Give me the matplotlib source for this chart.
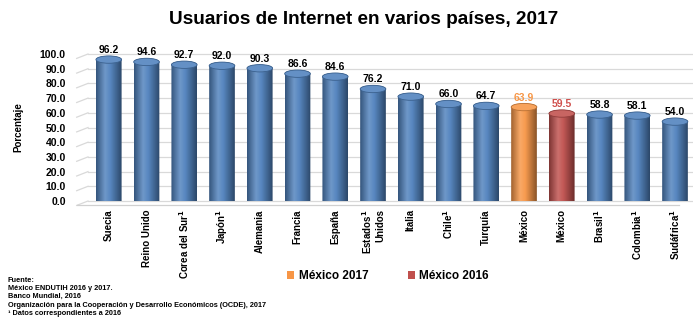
import numpy as np
import matplotlib
matplotlib.use("Agg")
import matplotlib.pyplot as plt
from matplotlib.path import Path
from matplotlib.patches import PathPatch, Ellipse, Patch
from matplotlib.colors import LinearSegmentedColormap, to_rgb

plt.rcParams['font.family'] = ['Liberation Sans', 'DejaVu Sans']
plt.rcParams['font.weight'] = 'bold'

paises = ["Suecia", "Reino Unido", "Corea del Sur$^1$", "Japón$^1$", "Alemania",
          "Francia", "España", "Estados$^1$\nUnidos", "Italia", "Chile$^1$",
          "Turquía", "México", "México", "Brasil$^1$", "Colombia$^1$", "Sudáfrica$^1$"]
usuarios = [96.2, 94.6, 92.7, 92.0, 90.3, 86.6, 84.6, 76.2, 71.0, 66.0,
            64.7, 63.9, 59.5, 58.8, 58.1, 54.0]
grupo = ["otros"] * 11 + ["mx2017", "mx2016"] + ["otros"] * 3
yticks = np.arange(0, 101, 10)

colores = {"otros": "#4F81BD", "mx2017": "#F79646", "mx2016": "#C0504D"}
color_etiqueta = {"otros": "black", "mx2017": "#F79646", "mx2016": "#D0504D"}


def shade(c, f):
    r = np.array(to_rgb(c))
    if f < 0:
        return tuple(r * (1 + f))
    return tuple(r + (1 - r) * f)


fig = plt.figure(figsize=(6.93, 3.2), dpi=100)
y_top, y_base = 54, 201
ax = fig.add_axes([88 / 693, 1 - y_base / 320, (692 - 88) / 693, (y_base - y_top) / 320])

x = np.arange(len(usuarios))
w = 0.68
eh = 5.0  # ellipse height of the cylinder caps, in data units

ax.set_xlim(-0.55, 15.45)
ax.set_ylim(0, 100)

# grid lines with a small perspective stub on the left
for t in yticks:
    ax.plot([-0.55, 15.45], [t, t], color="#D9D9D9", lw=0.9, zorder=0, clip_on=False)
    ax.plot([-0.85, -0.55], [t - 3.0, t], color="#D9D9D9", lw=0.9, zorder=0, clip_on=False)
ax.plot([-0.85, 15.1], [-3.0, -3.0], color="#D0D0D0", lw=0.9, zorder=0, clip_on=False)

grad = np.linspace(0, 1, 256).reshape(1, -1)
for xi, v, g in zip(x, usuarios, grupo):
    base = colores[g]
    cmap = LinearSegmentedColormap.from_list(
        "cyl", [(0, shade(base, -0.35)), (0.35, shade(base, 0.18)),
                (0.55, shade(base, 0.05)), (1, shade(base, -0.45))])
    l, r = xi - w / 2, xi + w / 2
    t = np.linspace(np.pi, 2 * np.pi, 40)
    bottom = [(xi + w / 2 * np.cos(a), eh / 2 * np.sin(a)) for a in t]
    t2 = np.linspace(0, np.pi, 40)
    top = [(xi + w / 2 * np.cos(a), v + eh / 2 * np.sin(a)) for a in t2]
    verts = [(l, v)] + bottom + [(r, v)] + top + [(l, v)]
    codes = [Path.MOVETO] + [Path.LINETO] * (len(verts) - 2) + [Path.CLOSEPOLY]
    body = PathPatch(Path(verts, codes), transform=ax.transData, facecolor="none",
                     edgecolor="none")
    ax.add_patch(body)
    im = ax.imshow(grad, cmap=cmap, extent=[l, r, -eh / 2, v + eh / 2],
                   aspect="auto", zorder=2, interpolation="bilinear")
    im.set_clip_path(body)
    cap = Ellipse((xi, v), w, eh, facecolor=shade(base, 0.12),
                  edgecolor=shade(base, -0.25), lw=0.6, zorder=3)
    ax.add_patch(cap)
    ax.text(xi, v + eh / 2 + 0.6, f"{v:.1f}", ha="center", va="bottom",
            fontsize=7.5, fontweight="bold", color=color_etiqueta[g], zorder=4)

ax.set_xlim(-0.55, 15.45)
ax.set_ylim(0, 100)
ax.set_xticks(x)
ax.set_xticklabels(paises, rotation=90, fontsize=7, fontweight="bold",
                   multialignment="right")
ax.set_yticks(yticks)
ax.set_yticklabels([f"{t:.1f}" for t in yticks], fontsize=7.5, fontweight="bold")
ax.tick_params(axis="both", length=0)
ax.tick_params(axis="y", pad=16)
ax.tick_params(axis="x", pad=6)
for s in ax.spines.values():
    s.set_visible(False)
ax.set_ylabel("Porcentaje", fontsize=7, fontweight="bold", labelpad=12)

fig.text(364 / 693, 1 - 19 / 320, "Usuarios de Internet en varios países, 2017",
         ha="center", va="center", fontsize=13.7, fontweight="bold")

handles = [Patch(facecolor=colores["mx2017"]), Patch(facecolor=colores["mx2016"])]
fig.legend(handles, ["México 2017", "México 2016"], loc="center",
           bbox_to_anchor=(388 / 693, 1 - 276 / 320), ncol=2, frameon=False,
           prop={"size": 8.5, "weight": "bold"}, handlelength=0.6, handleheight=0.6,
           handletextpad=0.4, columnspacing=3.3)

notas = ["Fuente:", "México ENDUTIH 2016 y 2017.", "Banco Mundial, 2016",
         "Organización para la Cooperación y Desarrollo Económicos (OCDE), 2017",
         "¹ Datos correspondientes a 2016"]
for i, n in enumerate(notas):
    fig.text(8 / 693, 1 - (280 + 8.4 * i) / 320, n, ha="left", va="center",
             fontsize=5.3, fontweight="bold")

fig.savefig("out.png", dpi=100)
